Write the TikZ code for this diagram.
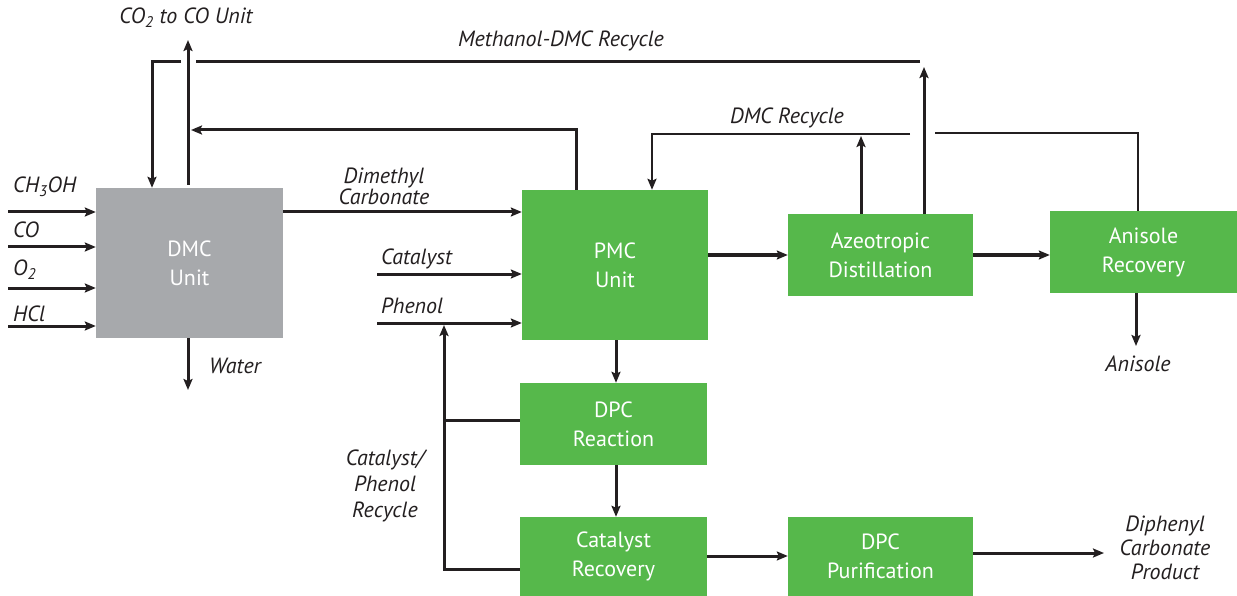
\documentclass[tikz,border=0pt]{standalone}
\usepackage{fontspec}
\setmainfont{PT Sans}
\usetikzlibrary{arrows.meta}
\definecolor{boxgreen}{HTML}{56B84B}
\definecolor{boxgray}{HTML}{A7A9AC}
\definecolor{ink}{HTML}{231F20}
\begin{document}
\begin{tikzpicture}[x=1pt,y=-1pt,
  unit/.style={fill=boxgreen,text=white,font=\fontsize{22}{29}\selectfont,align=center,inner sep=0pt},
  lbl/.style={font=\itshape\fontsize{22}{24}\selectfont,text=ink,inner sep=0pt,align=center},
  pipe/.style={draw=ink,line width=3pt},
  flow/.style={pipe,-{Stealth[length=11pt,width=9pt,inset=2pt]}}]
\useasboundingbox (0,0) rectangle (1237,596);
% units
\node[unit,fill=boxgray,minimum width=187pt,minimum height=150pt] (dmc) at (189.5,263) {DMC\\Unit};
\node[unit,minimum width=186pt,minimum height=150pt] (pmc) at (615,265) {PMC\\Unit};
\node[unit,minimum width=185pt,minimum height=82pt] (azeo) at (880.5,255) {Azeotropic\\Distillation};
\node[unit,minimum width=187pt,minimum height=82pt] (anis) at (1143.5,252) {Anisole\\Recovery};
\node[unit,minimum width=187pt,minimum height=82pt] (dpcr) at (613.5,424) {DPC\\Reaction};
\node[unit,minimum width=187pt,minimum height=79pt] (catr) at (613.5,556.5) {Catalyst\\Recovery};
\node[unit,minimum width=185pt,minimum height=79pt] (dpcp) at (880.5,556.5) {DPC\\Purification};
% labels
\node[lbl] (lco2) at (186,18) {CO\textsubscript{2} to CO Unit};
\node[lbl] (lmeth) at (561,41) {Methanol-DMC Recycle};
\node[lbl] (ldmcr) at (787,118) {DMC Recycle};
\node[lbl,anchor=west] (lch3) at (13,187) {CH\textsubscript{3}OH};
\node[lbl,anchor=west] (lco) at (13,230) {CO};
\node[lbl,anchor=west] (lo2) at (13,270) {O\textsubscript{2}};
\node[lbl,anchor=west] (lhcl) at (13,314) {HCl};
\node[lbl,font=\itshape\fontsize{22}{20}\selectfont] (ldmc) at (384,186) {Dimethyl\\Carbonate};
\node[lbl,anchor=west] (lcat) at (381,259) {Catalyst};
\node[lbl,anchor=west] (lphe) at (381,306) {Phenol};
\node[lbl,anchor=west] (lwat) at (209,366) {Water};
\node[lbl] (lanis) at (1138,364) {Anisole};
\node[lbl,font=\itshape\fontsize{22}{26}\selectfont] (lcpr) at (385,486) {Catalyst/\\Phenol\\Recycle};
\node[lbl] (lprod) at (1165,548) {Diphenyl\\Carbonate\\Product};
% feed points
\coordinate (fch3) at (8,212);
\coordinate (fco) at (8,247);
\coordinate (fo2) at (8,288);
\coordinate (fhcl) at (8,326);
\coordinate (fcat) at (377,274);
\coordinate (fphe) at (377,323);
\coordinate (co2end) at (188,40);
\coordinate (watend) at (188,390);
\coordinate (anisend) at (1136,346);
\coordinate (prodend) at (1104,553);
% feeds
\draw[flow] (fch3) -- (fch3 -| dmc.west);
\draw[flow] (fco) -- (fco -| dmc.west);
\draw[flow] (fo2) -- (fo2 -| dmc.west);
\draw[flow] (fhcl) -- (fhcl -| dmc.west);
\draw[flow] (fcat) -- (fcat -| pmc.west);
\draw[flow] (fphe) -- (fphe -| pmc.west);
% DMC outputs
\draw[flow] (dmc.north -| co2end) ++(0,-3) -- (co2end);
\draw[flow] (dmc.south -| watend) -- (watend);
\draw[flow] (dmc.east |- 0,212) -- (pmc.west |- 0,212);
% methanol-DMC recycle
\coordinate (mr1) at (920,62);
\coordinate (mr2) at (196,62);
\coordinate (mr3) at (181,62);
\draw[flow] (azeo.north -| 924,0) -- (924,67);
\draw[pipe] (mr1) -- (mr2);
\draw[flow] (mr3) -- (152,62) -- (dmc.north -| 152,0);
% PMC top recycle to CO2 line
\draw[flow] (pmc.north -| 576,0) -- (576,130) -- (191,130);
% DMC recycle
\draw[flow] (azeo.north -| 861,0) -- (861,136);
\draw[pipe,line width=2.5pt] (anis.north -| 1138,0) -- (1138,133) -- (935,133);
\draw[flow,line width=2.5pt] (910,134) -- (652,134) -- (pmc.north -| 652,0);
% main train
\draw[flow] (pmc.east |- 0,255) -- (azeo.west |- 0,255);
\draw[flow] (azeo.east |- 0,255) -- (anis.west |- 0,255);
\draw[flow] (anis.south -| anisend) -- (anisend);
\draw[flow] (pmc.south -| 616,0) -- (dpcr.north -| 616,0);
\draw[flow] (dpcr.south -| 616,0) -- (catr.north -| 616,0);
\draw[flow] (catr.east |- 0,556) -- (dpcp.west |- 0,556);
\draw[flow] (dpcp.east |- 0,553) -- (prodend);
% catalyst/phenol recycle
\draw[pipe] (dpcr.west |- 0,420) -- (444,420);
\draw[flow] (catr.west |- 0,569) -- (444,569) -- (444,325);
\end{tikzpicture}
\end{document}
